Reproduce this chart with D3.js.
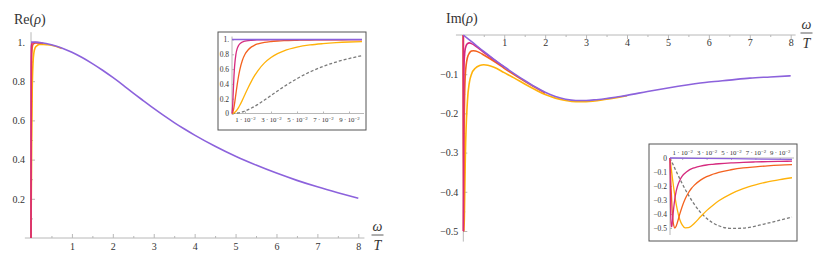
<!DOCTYPE html>
<html>
<head>
<meta charset="utf-8">
<script src="https://cdn.jsdelivr.net/npm/d3@7"></script>
<style>
  body { margin: 0; background: #fff; }
  svg text { font-family: "Liberation Serif", "DejaVu Serif", serif; }
</style>
</head>
<body>
<svg id="chart" width="830" height="266"></svg>
<script>
// ---- data ----
var mainTicksX = [1, 2, 3, 4, 5, 6, 7, 8];
var reTicksY = [0.2, 0.4, 0.6, 0.8, 1];
var reTickLabels = ['0.2', '0.4', '0.6', '0.8', '1.'];
var imTicksY = [-0.1, -0.2, -0.3, -0.4, -0.5];
var imTickLabels = ['\u22120.1', '\u22120.2', '\u22120.3', '\u22120.4', '\u22120.5'];

var insetTicksX = [0.01, 0.03, 0.05, 0.07, 0.09];
var insetReTicksY = [0, 0.2, 0.4, 0.6, 0.8, 1];
var insetReTickLabels = ['0', '0.2', '0.4', '0.6', '0.8', '1.'];
var insetImTicksY = [0, -0.1, -0.2, -0.3, -0.4, -0.5];
var insetImTickLabels = ['0', '\u22120.1', '\u22120.2', '\u22120.3', '\u22120.4', '\u22120.5'];

// main curve (purple), omega / T
var mainW = [0, 0.25, 0.5, 0.75, 1, 1.25, 1.5, 1.75, 2, 2.25, 2.5, 2.75, 3, 3.25, 3.5, 3.75, 4, 4.5, 5, 5.5, 6, 6.5, 7, 7.5, 8];
var rePurple = [1, 0.9965, 0.986, 0.97, 0.948, 0.921, 0.89, 0.856, 0.819, 0.78, 0.739, 0.7, 0.661, 0.624, 0.589, 0.556, 0.525, 0.468, 0.417, 0.372, 0.331, 0.294, 0.261, 0.231, 0.203];
var imPurple = [0, -0.021, -0.042, -0.062, -0.081, -0.099, -0.116, -0.132, -0.146, -0.157, -0.164, -0.167, -0.167, -0.165, -0.162, -0.158, -0.154, -0.144, -0.135, -0.127, -0.12, -0.115, -0.11, -0.107, -0.104];

// coloured curves near the origin, main panels
var reMagentaW = [0, 0.0015, 0.004, 0.01, 0.03, 0.1, 0.25];
var reMagenta = [0, 0.5, 0.88, 0.978, 0.996, 0.998, 0.996];
var reOrangeW = [0, 0.005, 0.01, 0.02, 0.04, 0.07, 0.1, 0.2, 0.3];
var reOrange = [0, 0.5, 0.8, 0.94, 0.983, 0.992, 0.995, 0.995, 0.993];
var reYellowW = [0, 0.017, 0.03, 0.05, 0.07, 0.1, 0.15, 0.2, 0.3, 0.4, 0.5, 0.75];
var reYellow = [0, 0.5, 0.757, 0.896, 0.944, 0.97, 0.982, 0.988, 0.988, 0.986, 0.983, 0.967];

var imMagentaW = [0, 0.0015, 0.005, 0.01, 0.02, 0.05, 0.1, 0.15, 0.2, 0.3, 0.5, 0.75, 1];
var imMagenta = [0, -0.5, -0.24, -0.13, -0.07, -0.034, -0.022, -0.02, -0.022, -0.028, -0.044, -0.063, -0.082];
var imOrangeW = [0, 0.005, 0.01, 0.02, 0.05, 0.1, 0.15, 0.2, 0.25, 0.3, 0.4, 0.5, 0.75, 1, 1.5, 2];
var imOrange = [0, -0.5, -0.4, -0.24, -0.1, -0.058, -0.046, -0.041, -0.04, -0.041, -0.045, -0.051, -0.067, -0.085, -0.118, -0.148];
var imYellowW = [0, 0.017, 0.03, 0.05, 0.1, 0.15, 0.2, 0.3, 0.4, 0.5, 0.6, 0.75, 1, 1.25, 1.5, 1.75, 2, 2.25, 2.5, 2.75, 3, 3.5, 4];
var imYellow = [0, -0.5, -0.44, -0.31, -0.17, -0.12, -0.1, -0.084, -0.078, -0.076, -0.077, -0.082, -0.096, -0.11, -0.125, -0.139, -0.152, -0.161, -0.167, -0.17, -0.17, -0.164, -0.155];

// insets, omega / T from 0 to 0.1
var insetW = [0, 0.0005, 0.001, 0.0015, 0.002, 0.003, 0.004, 0.005, 0.006, 0.008, 0.01, 0.0125, 0.015, 0.0175, 0.02, 0.025, 0.03, 0.035, 0.04, 0.05, 0.06, 0.07, 0.08, 0.09, 0.1];
var insetReMagenta = [0, 0.1, 0.308, 0.5, 0.64, 0.8, 0.877, 0.917, 0.941, 0.966, 0.978, 0.986, 0.99, 0.993, 0.994, 0.996, 0.997, 0.998, 0.998, 0.999, 0.999, 0.999, 0.999, 0.999, 0.999];
var insetReOrange = [0, 0.01, 0.038, 0.083, 0.138, 0.265, 0.39, 0.5, 0.59, 0.719, 0.8, 0.862, 0.9, 0.925, 0.941, 0.962, 0.973, 0.98, 0.985, 0.99, 0.993, 0.995, 0.996, 0.997, 0.997];
var insetReYellow = [0, 0.001, 0.003, 0.008, 0.014, 0.03, 0.052, 0.08, 0.111, 0.181, 0.257, 0.351, 0.438, 0.514, 0.581, 0.684, 0.757, 0.809, 0.847, 0.896, 0.926, 0.944, 0.957, 0.966, 0.972];
var insetReDashed = [0, 0, 0, 0.001, 0.001, 0.003, 0.006, 0.009, 0.013, 0.022, 0.034, 0.053, 0.074, 0.098, 0.125, 0.182, 0.243, 0.304, 0.363, 0.471, 0.562, 0.636, 0.695, 0.743, 0.781];
var insetImMagenta = [0, -0.36, -0.49, -0.49, -0.45, -0.36, -0.29, -0.24, -0.205, -0.16, -0.13, -0.107, -0.09, -0.078, -0.07, -0.058, -0.05, -0.045, -0.041, -0.035, -0.031, -0.028, -0.026, -0.024, -0.023];
var insetImOrange = [0, -0.123, -0.235, -0.329, -0.4, -0.48, -0.5, -0.488, -0.462, -0.401, -0.346, -0.291, -0.25, -0.218, -0.194, -0.158, -0.133, -0.116, -0.102, -0.084, -0.071, -0.063, -0.056, -0.051, -0.048];
var insetImYellow = [0, -0.037, -0.074, -0.11, -0.145, -0.212, -0.272, -0.326, -0.371, -0.439, -0.478, -0.499, -0.498, -0.485, -0.466, -0.42, -0.376, -0.339, -0.306, -0.256, -0.219, -0.192, -0.17, -0.154, -0.141];
var insetImDashed = [0, -0.009, -0.019, -0.028, -0.038, -0.056, -0.075, -0.094, -0.112, -0.148, -0.183, -0.225, -0.263, -0.299, -0.332, -0.388, -0.431, -0.463, -0.484, -0.503, -0.501, -0.487, -0.466, -0.444, -0.422];
var insetPurpleW = [0, 0.05, 0.1];
var insetRePurple = [1, 1, 1];
var insetImPurple = [0, -0.005, -0.01];

var colors = {purple: '#8c62dc', magenta: '#d62a7e', orange: '#f4621f', yellow: '#ffb20a', dashed: '#7a7a7a'};
var axisGray = '#b8b8b8', labelGray = '#333';
var serif = '"Liberation Serif", "DejaVu Serif", serif';

var svg = d3.select('#chart');

function pairs(ws, vs) { return ws.map(function (w, i) { return [w, vs[i]]; }); }

function drawCurves(g, x, y, curves, width) {
    var line = d3.line()
        .x(d => x(d[0]))
        .y(d => y(d[1]))
        .curve(d3.curveMonotoneX);
    curves.forEach(function (c) {
        g.append('path')
            .datum(c.data)
            .attr('d', line)
            .attr('fill', 'none')
            .attr('stroke', c.color)
            .attr('stroke-width', width)
            .attr('stroke-dasharray', c.dash || null)
            .attr('stroke-linejoin', 'round');
    });
}

function styleAxis(g, size) {
    g.attr('font-family', null).attr('font-size', null);
    g.select('.domain').remove();
    g.selectAll('line').attr('stroke', axisGray);
    g.selectAll('text')
        .attr('fill', labelGray)
        .style('font-family', serif)
        .style('font-size', size + 'px');
}

function axisLine(g, x1, y1, x2, y2) {
    g.append('line')
        .attr('x1', x1).attr('y1', y1).attr('x2', x2).attr('y2', y2)
        .attr('stroke', axisGray).attr('stroke-width', 1);
}

function fracLabel(g, cx, ly) {
    g.append('text').attr('x', cx).attr('y', ly - 4).attr('text-anchor', 'middle')
        .style('font-size', '14px').style('font-style', 'italic').attr('fill', labelGray).text('\u03c9');
    g.append('line').attr('x1', cx - 6).attr('x2', cx + 6).attr('y1', ly).attr('y2', ly)
        .attr('stroke', labelGray).attr('stroke-width', 0.8);
    g.append('text').attr('x', cx).attr('y', ly + 14.5).attr('text-anchor', 'middle')
        .style('font-size', '14px').style('font-style', 'italic').attr('fill', labelGray).text('T');
}

function titleLabel(g, x, y, name) {
    var t = g.append('text').attr('x', x).attr('y', y).style('font-size', '14px').attr('fill', labelGray);
    t.append('tspan').text(name + '(');
    t.append('tspan').style('font-style', 'italic').text('\u03c1');
    t.append('tspan').text(')');
}

function sciLabels(sel) {
    sel.each(function (d) {
        var t = d3.select(this);
        t.text(null);
        t.append('tspan').text(Math.round(d * 100) + '\u2009\u00b7\u200910');
        t.append('tspan').attr('dy', '-0.45em').style('font-size', '72%').text('\u22122');
    });
}

// ================= Re panel =================
var reX = d3.scaleLinear().domain([0, 8]).range([31, 358.3]);
var reY = d3.scaleLinear().domain([0, 1]).range([238, 42]);
var reG = svg.append('g');

axisLine(reG, reX(-0.15), reY(0), reX(8.15), reY(0));
axisLine(reG, reX(0), reY(0), reX(0), reY(1.05));

reG.append('g').attr('transform', 'translate(0,' + reY(0) + ')')
    .call(d3.axisBottom(reX).tickValues(mainTicksX.map(d => d - 0.5)).tickSize(-2).tickFormat(''))
    .call(styleAxis, 10);
reG.append('g').attr('transform', 'translate(0,' + reY(0) + ')')
    .call(d3.axisBottom(reX).tickValues(mainTicksX).tickSizeInner(-4).tickSizeOuter(0).tickPadding(5).tickFormat(d3.format('d')))
    .call(styleAxis, 10);
reG.append('g').attr('transform', 'translate(' + reX(0) + ',0)')
    .call(d3.axisLeft(reY).tickValues(reTicksY.map(d => d - 0.1)).tickSize(-2).tickFormat(''))
    .call(styleAxis, 10);
reG.append('g').attr('transform', 'translate(' + reX(0) + ',0)')
    .call(d3.axisLeft(reY).tickValues(reTicksY).tickSizeInner(-4).tickSizeOuter(0).tickPadding(6)
        .tickFormat((d, i) => reTickLabels[i]))
    .call(styleAxis, 10);

drawCurves(reG, reX, reY, [
    {data: pairs(reYellowW, reYellow), color: colors.yellow},
    {data: pairs(reOrangeW, reOrange), color: colors.orange},
    {data: pairs(reMagentaW, reMagenta), color: colors.magenta},
    {data: pairs(mainW, rePurple), color: colors.purple}
], 1.6);

titleLabel(reG, 14, 24, 'Re');
fracLabel(reG, 377.5, 235);

// Re inset
var inReX = d3.scaleLinear().domain([0, 0.1]).range([232, 362]);
var inReY = d3.scaleLinear().domain([0, 1]).range([113.5, 39.5]);
var inReG = svg.append('g');
inReG.append('rect').attr('x', 218).attr('y', 32).attr('width', 148).attr('height', 98)
    .attr('fill', '#fff').attr('stroke', '#555').attr('stroke-width', 1);
axisLine(inReG, inReX(0), inReY(0), inReX(0.1) + 2, inReY(0));
axisLine(inReG, inReX(0), inReY(0) + 1, inReX(0), inReY(1.04));
inReG.append('g').attr('transform', 'translate(0,' + inReY(0) + ')')
    .call(d3.axisBottom(inReX).tickValues(insetTicksX).tickSizeInner(-2).tickSizeOuter(0).tickPadding(4))
    .call(styleAxis, 6.8)
    .selectAll('text').call(sciLabels);
inReG.append('g').attr('transform', 'translate(' + inReX(0) + ',0)')
    .call(d3.axisLeft(inReY).tickValues(insetReTicksY).tickSizeInner(-2).tickSizeOuter(0).tickPadding(3)
        .tickFormat((d, i) => insetReTickLabels[i]))
    .call(styleAxis, 7.5);
drawCurves(inReG, inReX, inReY, [
    {data: pairs(insetW, insetReDashed), color: colors.dashed, dash: '3,2'},
    {data: pairs(insetW, insetReYellow), color: colors.yellow},
    {data: pairs(insetW, insetReOrange), color: colors.orange},
    {data: pairs(insetW, insetReMagenta), color: colors.magenta},
    {data: pairs(insetPurpleW, insetRePurple), color: colors.purple}
], 1.3);

// ================= Im panel =================
var imX = d3.scaleLinear().domain([0, 8]).range([463.3, 790.7]);
var imY = d3.scaleLinear().domain([0, -0.5]).range([35, 231]);
var imG = svg.append('g');

axisLine(imG, imX(-0.18), imY(0), imX(8.12), imY(0));
axisLine(imG, imX(0), imY(0), imX(0), imY(-0.527));

imG.append('g').attr('transform', 'translate(0,' + imY(0) + ')')
    .call(d3.axisBottom(imX).tickValues(mainTicksX.map(d => d - 0.5)).tickSize(2).tickFormat(''))
    .call(styleAxis, 10);
imG.append('g').attr('transform', 'translate(0,' + imY(0) + ')')
    .call(d3.axisBottom(imX).tickValues(mainTicksX).tickSizeInner(4).tickSizeOuter(0).tickPadding(0).tickFormat(d3.format('d')))
    .call(styleAxis, 10);
imG.append('g').attr('transform', 'translate(' + imX(0) + ',0)')
    .call(d3.axisLeft(imY).tickValues(imTicksY.map(d => d + 0.05)).tickSize(-2).tickFormat(''))
    .call(styleAxis, 10);
imG.append('g').attr('transform', 'translate(' + imX(0) + ',0)')
    .call(d3.axisLeft(imY).tickValues(imTicksY).tickSizeInner(-4).tickSizeOuter(0).tickPadding(5)
        .tickFormat((d, i) => imTickLabels[i]))
    .call(styleAxis, 10);

drawCurves(imG, imX, imY, [
    {data: pairs(imYellowW, imYellow), color: colors.yellow},
    {data: pairs(imOrangeW, imOrange), color: colors.orange},
    {data: pairs(imMagentaW, imMagenta), color: colors.magenta},
    {data: pairs(mainW, imPurple), color: colors.purple}
], 1.6);

titleLabel(imG, 446, 23, 'Im');
fracLabel(imG, 806.5, 33);

// Im inset
var inImX = d3.scaleLinear().domain([0, 0.1]).range([670, 792]);
var inImY = d3.scaleLinear().domain([0, -0.5]).range([158, 228]);
var inImG = svg.append('g');
inImG.append('rect').attr('x', 649).attr('y', 144).attr('width', 148).attr('height', 97)
    .attr('fill', '#fff').attr('stroke', '#555').attr('stroke-width', 1);
axisLine(inImG, inImX(0), inImY(0), inImX(0.1) + 2, inImY(0));
axisLine(inImG, inImX(0), inImY(0), inImX(0), inImY(-0.55));
inImG.append('g').attr('transform', 'translate(0,' + inImY(0) + ')')
    .call(d3.axisTop(inImX).tickValues(insetTicksX).tickSizeInner(-2).tickSizeOuter(0).tickPadding(3))
    .call(styleAxis, 6.8)
    .selectAll('text').call(sciLabels);
inImG.append('g').attr('transform', 'translate(' + inImX(0) + ',0)')
    .call(d3.axisLeft(inImY).tickValues(insetImTicksY).tickSizeInner(-2).tickSizeOuter(0).tickPadding(3)
        .tickFormat((d, i) => insetImTickLabels[i]))
    .call(styleAxis, 7.5);
drawCurves(inImG, inImX, inImY, [
    {data: pairs(insetW, insetImDashed), color: colors.dashed, dash: '3,2'},
    {data: pairs(insetW, insetImYellow), color: colors.yellow},
    {data: pairs(insetW, insetImOrange), color: colors.orange},
    {data: pairs(insetW, insetImMagenta), color: colors.magenta},
    {data: pairs(insetPurpleW, insetImPurple), color: colors.purple}
], 1.3);
</script>
</body>
</html>
